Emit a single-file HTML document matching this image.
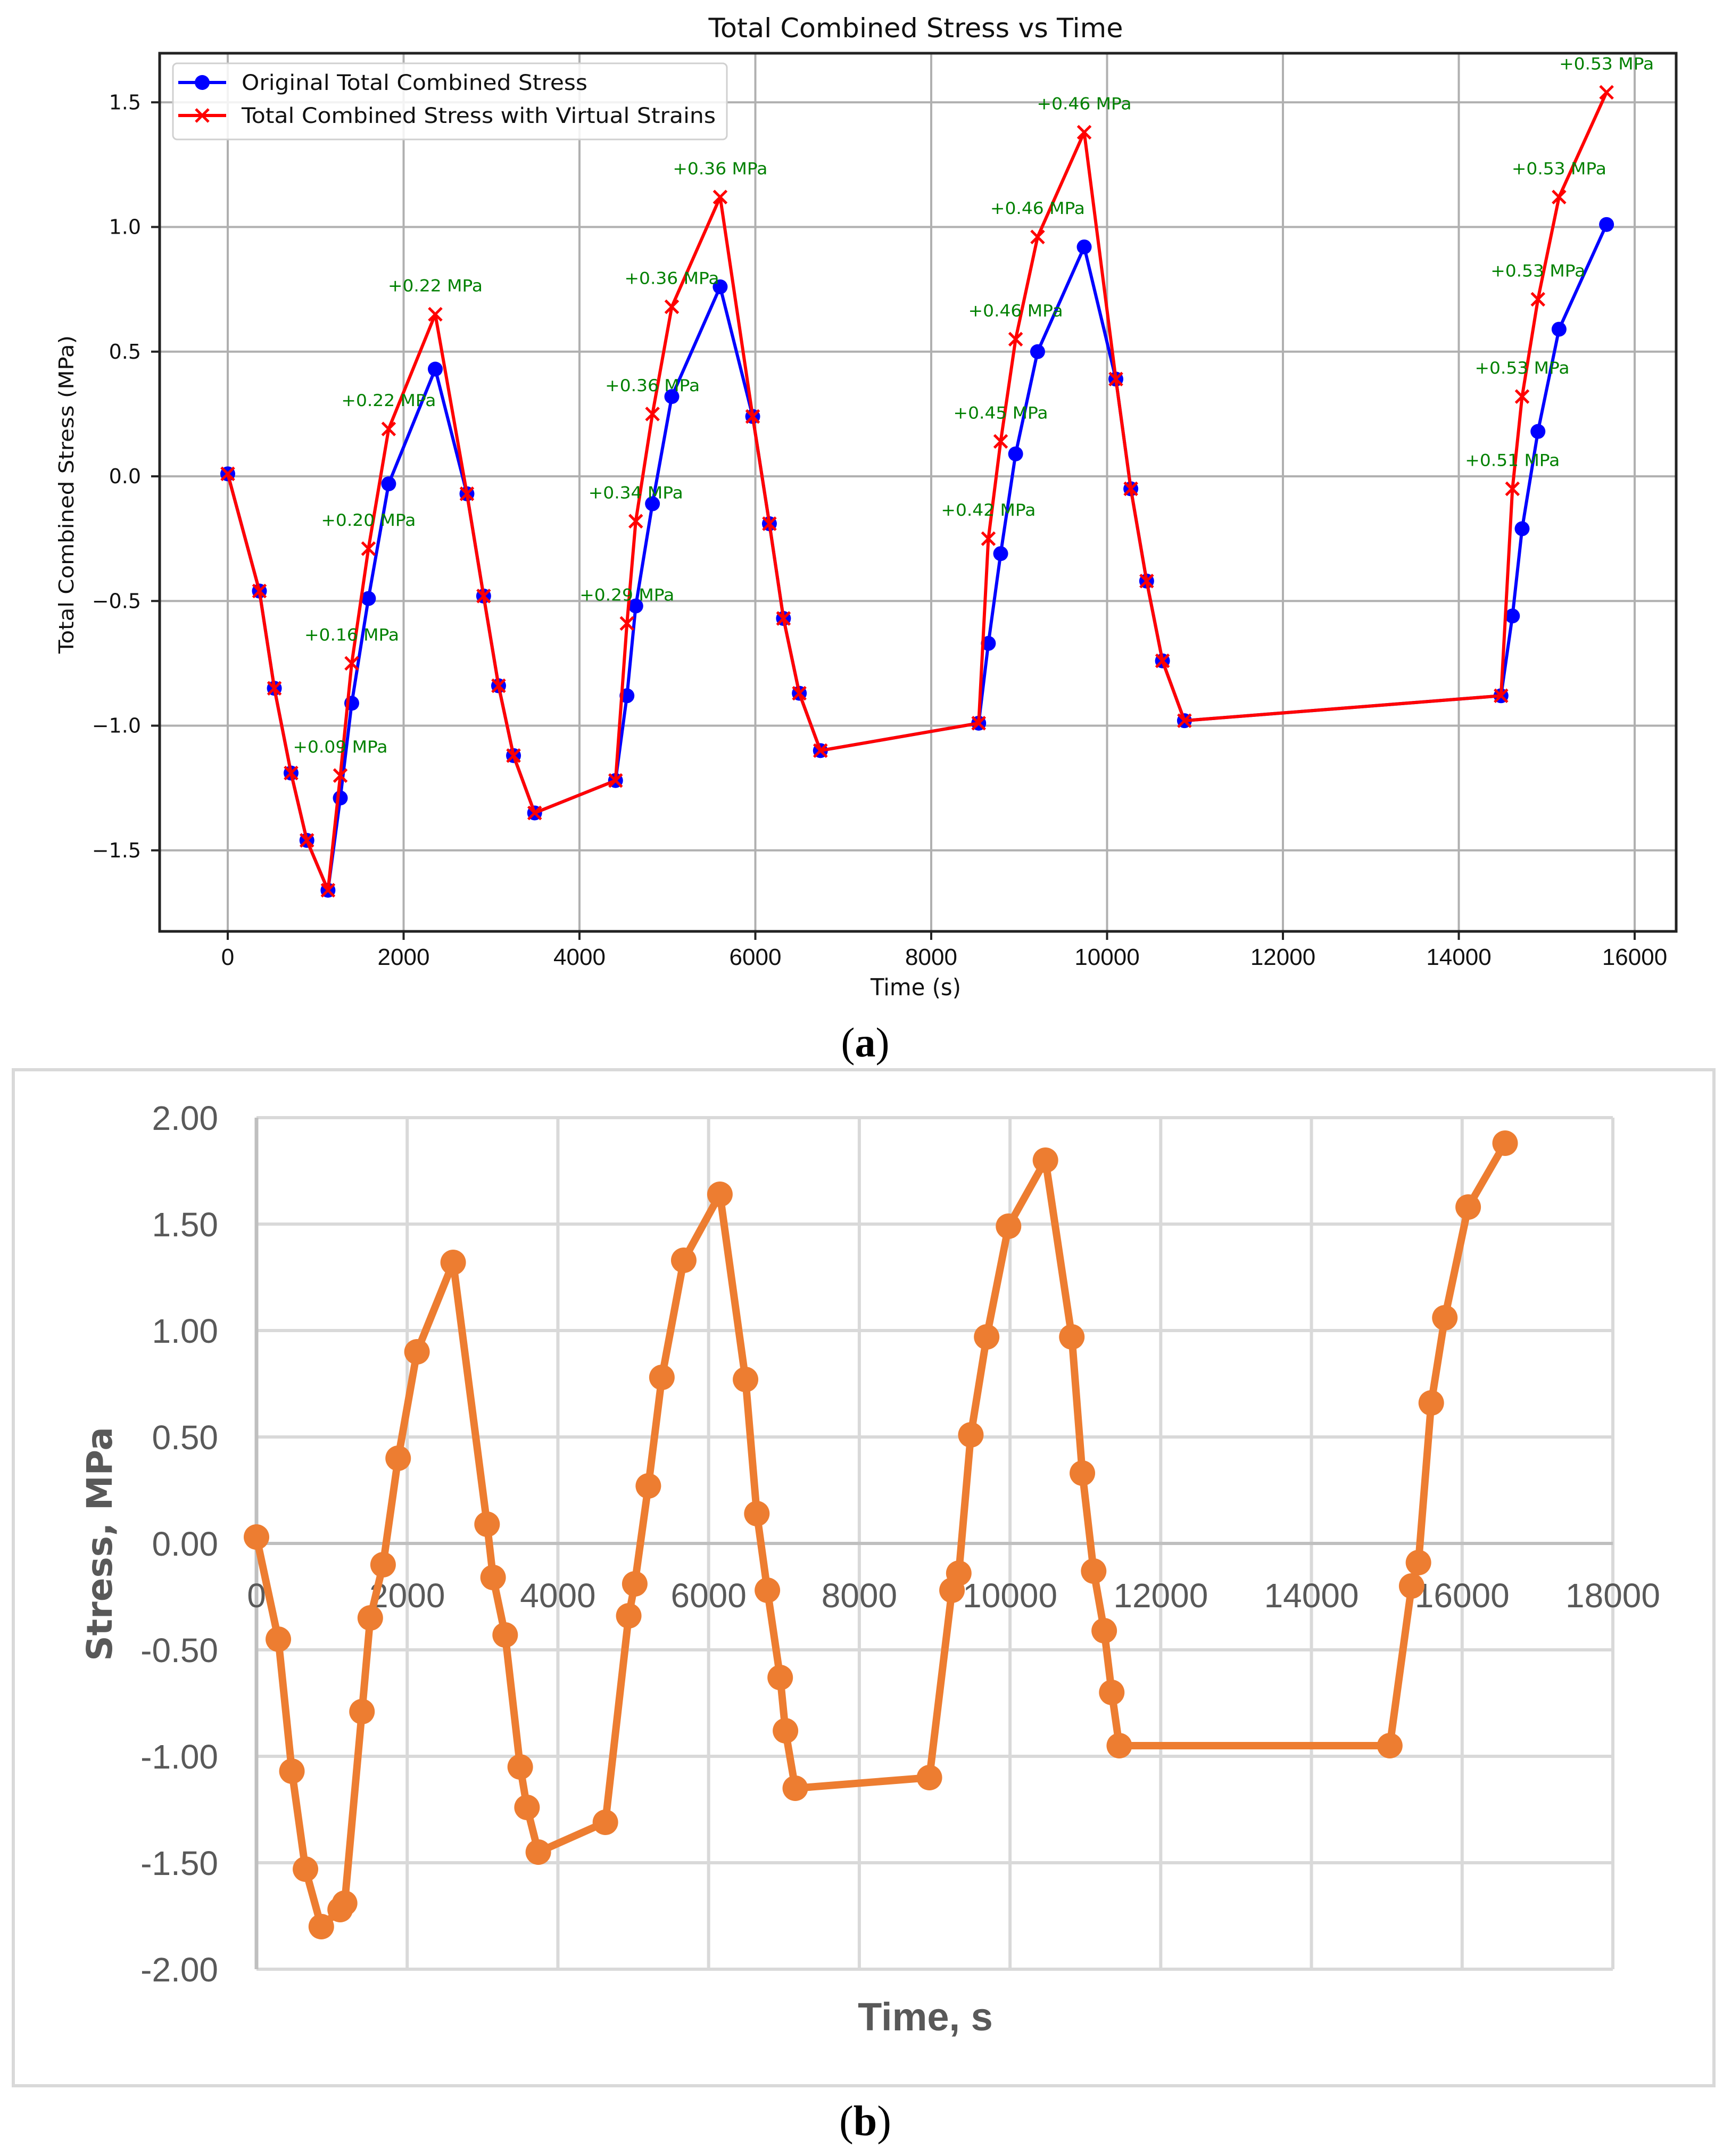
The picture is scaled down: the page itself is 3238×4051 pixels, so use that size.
<!DOCTYPE html>
<html><head><meta charset="utf-8"><style>
html,body{margin:0;padding:0;background:#fff;}
svg{display:block;}
</style></head><body>
<svg id="fig" xmlns="http://www.w3.org/2000/svg" width="3238" height="4051" viewBox="0 0 3238 4051">
<rect x="0" y="0" width="3238" height="4051" fill="#fff"/>
<g id="ga"></g>
<g id="gb"></g>
</svg>
<script>
// ---- Chart (a) data ----
const timesA = [0,360,530,720,900,1140,1280,1410,1600,1830,2360,2720,2910,3080,3250,3490,4410,4540,4640,4830,5050,5600,5970,6160,6320,6500,6740,8540,8650,8790,8960,9210,9740,10100,10270,10450,10630,10880,14480,14610,14720,14900,15140,15680];
const originalStress = [0.01,-0.46,-0.85,-1.19,-1.46,-1.66,-1.29,-0.91,-0.49,-0.03,0.43,-0.07,-0.48,-0.84,-1.12,-1.35,-1.22,-0.88,-0.52,-0.11,0.32,0.76,0.24,-0.19,-0.57,-0.87,-1.10,-0.99,-0.67,-0.31,0.09,0.50,0.92,0.39,-0.05,-0.42,-0.74,-0.98,-0.88,-0.56,-0.21,0.18,0.59,1.01];
const virtualOffsets = [0,0,0,0,0,0,0.09,0.16,0.20,0.22,0.22,0,0,0,0,0,0,0.29,0.34,0.36,0.36,0.36,0,0,0,0,0,0,0.42,0.45,0.46,0.46,0.46,0,0,0,0,0,0,0.51,0.53,0.53,0.53,0.53];
const xTicksA = [0,2000,4000,6000,8000,10000,12000,14000,16000];
const yTicksA = [-1.5,-1.0,-0.5,0.0,0.5,1.0,1.5];
const yTickLabelsA = ["\u22121.5","\u22121.0","\u22120.5","0.0","0.5","1.0","1.5"];
// ---- Chart (b) data ----
const timesB = [0,290,470,650,860,1110,1170,1400,1510,1680,1880,2130,2610,3060,3140,3300,3500,3590,3740,4630,4940,5020,5200,5380,5670,6150,6490,6640,6780,6950,7020,7150,8930,9230,9320,9480,9690,9980,10470,10820,10960,11110,11250,11350,11450,15040,15330,15420,15590,15770,16080,16570];
const stressB = [0.03,-0.45,-1.07,-1.53,-1.80,-1.72,-1.69,-0.79,-0.35,-0.10,0.40,0.90,1.32,0.09,-0.16,-0.43,-1.05,-1.24,-1.45,-1.31,-0.34,-0.19,0.27,0.78,1.33,1.64,0.77,0.14,-0.22,-0.63,-0.88,-1.15,-1.10,-0.22,-0.14,0.51,0.97,1.49,1.80,0.97,0.33,-0.13,-0.41,-0.70,-0.95,-0.95,-0.20,-0.09,0.66,1.06,1.58,1.88];
const xTicksB = [0,2000,4000,6000,8000,10000,12000,14000,16000,18000];
const yTicksB = [-2,-1.5,-1,-0.5,0,0.5,1,1.5,2];
const yTickLabelsB = ["-2.00","-1.50","-1.00","-0.50","0.00","0.50","1.00","1.50","2.00"];

const NS="http://www.w3.org/2000/svg";
function mk(parent,tag,attrs,text){const e=document.createElementNS(NS,tag);for(const k in attrs)e.setAttribute(k,attrs[k]);if(text!==undefined)e.textContent=text;parent.appendChild(e);return e;}

// ===== Chart A =====
const ga=document.getElementById('ga');
const AL=300,AR=3150,AT=100,AB=1750;
const xa=t=>428+(t/16000)*(3072-428);
const ya=v=>895-v*468.5;
// grid
xTicksA.forEach(t=>{const l=mk(ga,'line',{x1:xa(t),x2:xa(t),y1:AT,y2:AB,stroke:'#b0b0b0','stroke-width':4});

});
yTicksA.forEach(v=>{const l=mk(ga,'line',{x1:AL,x2:AR,y1:ya(v),y2:ya(v),stroke:'#b0b0b0','stroke-width':4});

});
// axes frame
const fr=mk(ga,'rect',{x:AL,y:AT,width:AR-AL,height:AB-AT,fill:'none',stroke:'#222','stroke-width':5});


// ticks & labels
xTicksA.forEach(t=>{mk(ga,'line',{x1:xa(t),x2:xa(t),y1:AB,y2:AB+16,stroke:'#222','stroke-width':4});
const tx=mk(ga,'text',{x:xa(t),y:1813,'text-anchor':'middle','font-family':'Liberation Sans Narrow, Liberation Sans, sans-serif','font-size':44,fill:'#111'},String(t));

});
yTicksA.forEach((v,i)=>{mk(ga,'line',{x1:AL-16,x2:AL,y1:ya(v),y2:ya(v),stroke:'#222','stroke-width':4});
const tx=mk(ga,'text',{x:265,y:ya(v)+13,'text-anchor':'end','font-family':'DejaVu Sans, sans-serif','font-size':38,fill:'#111'},yTickLabelsA[i]);

});
// titles
let t1=mk(ga,'text',{x:1721,y:70,'text-anchor':'middle','font-family':'DejaVu Sans, sans-serif','font-size':50,fill:'#111',textLength:779,lengthAdjust:'spacingAndGlyphs'},'Total Combined Stress vs Time');


let t2=mk(ga,'text',{x:1721,y:1870,'text-anchor':'middle','font-family':'DejaVu Sans, sans-serif','font-size':44,fill:'#111',textLength:170,lengthAdjust:'spacingAndGlyphs'},'Time (s)');


let t3=mk(ga,'text',{x:0,y:0,'text-anchor':'middle','font-family':'DejaVu Sans, sans-serif','font-size':38,fill:'#111',textLength:598,lengthAdjust:'spacingAndGlyphs',transform:'translate(138,929) rotate(-90)'},'Total Combined Stress (MPa)');


// series
const redVals=originalStress.map((v,i)=>v+virtualOffsets[i]);
const bp=mk(ga,'polyline',{points:timesA.map((t,i)=>xa(t)+','+ya(originalStress[i])).join(' '),fill:'none',stroke:'#0000ff','stroke-width':6,'stroke-linejoin':'round'});


timesA.forEach((t,i)=>{const c=mk(ga,'circle',{cx:xa(t),cy:ya(originalStress[i]),r:14,fill:'#0000ff'});

});
const rp=mk(ga,'polyline',{points:timesA.map((t,i)=>xa(t)+','+ya(redVals[i])).join(' '),fill:'none',stroke:'#ff0000','stroke-width':6,'stroke-linejoin':'round'});


timesA.forEach((t,i)=>{const cx=xa(t),cy=ya(redVals[i]),s=12;
const p=mk(ga,'path',{d:`M${cx-s},${cy-s}L${cx+s},${cy+s}M${cx-s},${cy+s}L${cx+s},${cy-s}`,stroke:'#ff0000','stroke-width':5,fill:'none'});


if(virtualOffsets[i]>0){const lb=mk(ga,'text',{x:cx,y:cy-43,'text-anchor':'middle','font-family':'DejaVu Sans, sans-serif','font-size':31,fill:'#008000',textLength:178,lengthAdjust:'spacingAndGlyphs'},'+'+virtualOffsets[i].toFixed(2)+' MPa');

}});
// legend
const lg=mk(ga,'g',{});


mk(lg,'rect',{x:325,y:119,width:1041,height:143,rx:8,fill:'#fff','fill-opacity':0.85,stroke:'#d0d0d0','stroke-width':3});
mk(lg,'line',{x1:335,x2:425,y1:155,y2:155,stroke:'#0000ff','stroke-width':6});
mk(lg,'circle',{cx:380,cy:155,r:14,fill:'#0000ff'});
const l1=mk(lg,'text',{x:454,y:169,'font-family':'DejaVu Sans, sans-serif','font-size':40,fill:'#111',textLength:650,lengthAdjust:'spacingAndGlyphs'},'Original Total Combined Stress');


mk(lg,'line',{x1:335,x2:425,y1:217,y2:217,stroke:'#ff0000','stroke-width':6});
mk(lg,'path',{d:'M368,205L392,229M368,229L392,205',stroke:'#ff0000','stroke-width':5});
const l2=mk(lg,'text',{x:454,y:231,'font-family':'DejaVu Sans, sans-serif','font-size':40,fill:'#111',textLength:891,lengthAdjust:'spacingAndGlyphs'},'Total Combined Stress with Virtual Strains');


const la=mk(ga,'text',{x:1626,y:1985,'text-anchor':'middle','font-family':'Liberation Serif, serif','font-size':78,fill:'#000'},'');


la.innerHTML='(<tspan font-weight="bold">a</tspan>)';

// ===== Chart B =====
const gb=document.getElementById('gb');
const BL=482,BR=3031,BT=2100,BB=3700;
const xb=t=>BL+(t/18000)*(BR-BL);
const yb=v=>2900-v*400;
const ob=mk(gb,'rect',{x:25,y:2010,width:3196,height:1909,fill:'#fff',stroke:'#d9d9d9','stroke-width':6});


xTicksB.forEach(t=>{const l=mk(gb,'line',{x1:xb(t),x2:xb(t),y1:BT,y2:BB,stroke:'#d9d9d9','stroke-width':6});

});
yTicksB.forEach((v,i)=>{const l=mk(gb,'line',{x1:BL,x2:BR,y1:yb(v),y2:yb(v),stroke:v===0?'#bfbfbf':'#d9d9d9','stroke-width':6});


const tx=mk(gb,'text',{x:410,y:yb(v)+23,'text-anchor':'end','font-family':'Liberation Sans, sans-serif','font-size':64,fill:'#595959'},yTickLabelsB[i]);

});
mk(gb,'line',{x1:BL,x2:BL,y1:BT,y2:BB,stroke:'#bfbfbf','stroke-width':7});
xTicksB.forEach(t=>{const tx=mk(gb,'text',{x:xb(t),y:3020,'text-anchor':'middle','font-family':'Liberation Sans, sans-serif','font-size':64,fill:'#595959'},String(t));

});
const xt=mk(gb,'text',{x:1739,y:3815,'text-anchor':'middle','font-family':'Liberation Sans, sans-serif','font-size':74,'font-weight':'bold',fill:'#595959'},'Time, s');


const yt=mk(gb,'text',{x:0,y:0,'text-anchor':'middle','font-family':'DejaVu Sans, sans-serif','font-size':66,'font-weight':'bold',fill:'#595959',transform:'translate(210,2901) rotate(-90)'},'Stress, MPa');


const op=mk(gb,'polyline',{points:timesB.map((t,i)=>xb(t)+','+yb(stressB[i])).join(' '),fill:'none',stroke:'#ED7D31','stroke-width':14,'stroke-linejoin':'round'});


timesB.forEach((t,i)=>{const c=mk(gb,'circle',{cx:xb(t),cy:yb(stressB[i]),r:24,fill:'#ED7D31'});

});
const lbb=mk(gb,'text',{x:1626,y:4012,'text-anchor':'middle','font-family':'Liberation Serif, serif','font-size':80,fill:'#000'},'');


lbb.innerHTML='(<tspan font-weight="bold">b</tspan>)';
</script>
</body></html>
